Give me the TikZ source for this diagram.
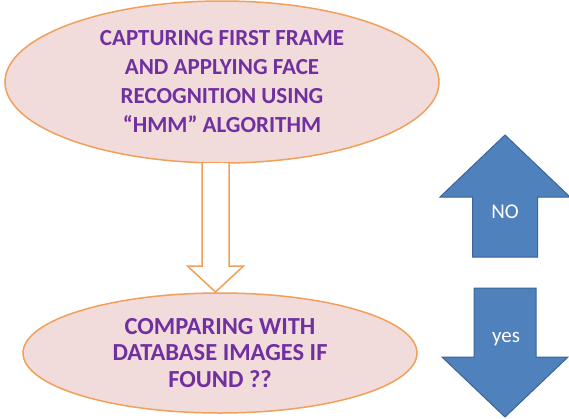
\documentclass[tikz,border=0pt]{standalone}
\usepackage{fontspec}
\setmainfont{Carlito}
\usetikzlibrary{shapes.geometric,calc}
\definecolor{pinkfill}{HTML}{F2DCDB}
\definecolor{orangeline}{RGB}{240,160,90}
\definecolor{purpletext}{HTML}{7030A0}
\definecolor{bluefill}{HTML}{4F81BD}
\definecolor{blueline}{HTML}{3A6496}
\tikzset{
  ellbox/.style={ellipse, draw=orangeline, fill=pinkfill, line width=1.5pt, inner sep=0pt,
    text=purpletext, align=center, font=\bfseries\fontsize{23}{29}\selectfont},
  hollowarrow/.style={draw=orangeline, fill=white, line width=1.5pt, line join=miter},
  bluearrow/.style={draw=blueline, fill=bluefill, line width=1pt, line join=miter},
  bluelabel/.style={text=white, font=\fontsize{21}{24}\selectfont, inner sep=0pt}
}
\begin{document}
\begin{tikzpicture}[x=1pt,y=-1pt]
\useasboundingbox (0,0) rectangle (569,418);
% top ellipse
\node[ellbox, minimum width=434pt, minimum height=162pt] (top) at (222,82)
  {CAPTURING FIRST FRAME\\AND APPLYING FACE\\RECOGNITION USING\\``HMM'' ALGORITHM};
% bottom ellipse
\node[ellbox, minimum width=394pt, minimum height=120pt, font=\bfseries\fontsize{24.5}{26.5}\selectfont] (bottom) at (220,353)
  {COMPARING WITH\\DATABASE IMAGES IF\\FOUND ??};
% hollow arrow between them
\coordinate (as) at (215.5,163);
\coordinate (ae) at (215.5,292);
\draw[hollowarrow] ($(as)+(-13.5,0)$) -- ($(ae)+(-13.5,-26)$) -- ($(ae)+(-28,-26)$) -- (ae)
  -- ($(ae)+(28,-26)$) -- ($(ae)+(13.5,-26)$) -- ($(as)+(13.5,0)$);
% blue up arrow (NO)
\coordinate (uptip) at (505,135);
\draw[bluearrow] (uptip) -- ($(uptip)+(65,62)$) -- ($(uptip)+(32.5,62)$) -- ($(uptip)+(32.5,122)$)
  -- ($(uptip)+(-32.5,122)$) -- ($(uptip)+(-32.5,62)$) -- ($(uptip)+(-65,62)$) -- cycle;
\node[bluelabel] (no) at (505,212) {NO};
% blue down arrow (yes)
\coordinate (dntip) at (505,417);
\draw[bluearrow] (dntip) -- ($(dntip)+(63,-60)$) -- ($(dntip)+(31,-60)$) -- ($(dntip)+(31,-129)$)
  -- ($(dntip)+(-31,-129)$) -- ($(dntip)+(-31,-60)$) -- ($(dntip)+(-63,-60)$) -- cycle;
\node[bluelabel] (yes) at (506,339) {yes};
\end{tikzpicture}
\end{document}
